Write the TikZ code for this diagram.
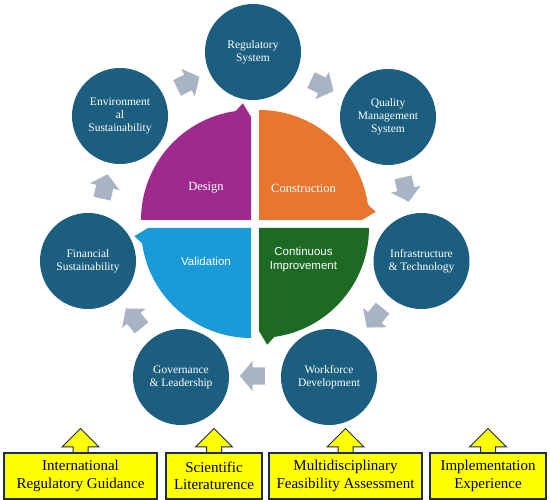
\documentclass[tikz,border=0pt]{standalone}
\usepackage{fontspec}
\setmainfont{Liberation Serif}
\setsansfont{Liberation Sans}
\usetikzlibrary{shapes.arrows}
\definecolor{circblue}{HTML}{1B5E80}
\definecolor{qpurple}{HTML}{9E2A8E}
\definecolor{qorange}{HTML}{E9762E}
\definecolor{qgreen}{HTML}{1D6A25}
\definecolor{qblue}{HTML}{189BD7}
\definecolor{garrow}{HTML}{A8B3C3}
\definecolor{yfill}{HTML}{FFFF00}
\definecolor{navy}{HTML}{1F2B4A}
\tikzset{
  circ/.style={circle, fill=circblue, text=white, minimum size=96pt, inner sep=0pt, align=center, font=\fontsize{11.5}{13}\selectfont},
  garr/.style={single arrow, fill=garrow, inner xsep=0pt, inner ysep=8.5pt, minimum height=25pt, minimum width=0pt, single arrow head extend=6.5pt, single arrow tip angle=100},
  yarr/.style={single arrow, fill=yfill, draw=navy, line width=1pt, inner xsep=0pt, inner ysep=7pt, minimum height=25pt, minimum width=0pt, single arrow head extend=11pt, rotate=90},
  ybx/.style={rectangle, fill=yfill, draw=navy, line width=1.2pt, minimum height=46pt, align=center, inner sep=0pt, font=\fontsize{15}{17.5}\selectfont},
  qlab/.style={text=white, align=center, font=\fontsize{12.5}{14}\selectfont},
  qlabs/.style={text=white, align=center, font=\sffamily\fontsize{11.5}{14}\selectfont}
}
\begin{document}
\begin{tikzpicture}[x=1pt,y=1pt]
\useasboundingbox (0,0) rectangle (550,500);
% quadrants
\begin{scope}[shift={(251,280)}]
\fill[qpurple] (0,0) -- (180:110pt) arc[start angle=180,end angle=98,radius=110pt] -- (94:117pt) -- (90:103pt) -- cycle;
\end{scope}
\begin{scope}[shift={(259,280)}]
\fill[qorange] (0,0) -- (90:110pt) arc[start angle=90,end angle=8,radius=110pt] -- (4:117pt) -- (0:103pt) -- cycle;
\end{scope}
\begin{scope}[shift={(259,272)}]
\fill[qgreen] (0,0) -- (0:110pt) arc[start angle=0,end angle=-82,radius=110pt] -- (-86:117pt) -- (-90:103pt) -- cycle;
\end{scope}
\begin{scope}[shift={(251,272)}]
\fill[qblue] (0,0) -- (270:110pt) arc[start angle=270,end angle=188,radius=110pt] -- (184:117pt) -- (180:103pt) -- cycle;
\end{scope}
\node[qlab] (design) at (206,312) {Design};
\node[qlab] (constr) at (303.5,312) {Construction};
\node[qlabs] (valid) at (206,239) {Validation};
\node[qlabs] (ci) at (303.5,240) {Continuous\\Improvement};
% circles
\node[circ] (reg) at (253,448) {Regulatory\\System};
\node[circ] (env) at (120,384) {Environment\\al\\Sustainability};
\node[circ] (qms) at (388,383) {Quality\\Management\\System};
\node[circ] (inf) at (421.5,239) {Infrastructure\\\& Technology};
\node[circ] (fin) at (88,239) {Financial\\Sustainability};
\node[circ] (wfd) at (329,123) {Workforce\\Development};
\node[circ] (gov) at (181,123) {Governance\\\& Leadership};
% gray arrows
\node[garr, rotate=26] (ga1) at (185,416) {};
\node[garr, rotate=-26] (ga2) at (319,416) {};
\node[garr, rotate=-77] (ga3) at (405,314) {};
\node[garr, rotate=-129] (ga4) at (377,185) {};
\node[garr, rotate=180] (ga5) at (256,124) {};
\node[garr, rotate=129] (ga6) at (136,179) {};
\node[garr, rotate=77] (ga7) at (104,310) {};
% yellow arrows
\node[yarr, anchor=tail] (ya1) at (80.5,46) {};
\node[yarr, anchor=tail] (ya2) at (214,46) {};
\node[yarr, anchor=tail] (ya3) at (345.5,46) {};
\node[yarr, anchor=tail] (ya4) at (488,46) {};
% boxes
\node[ybx, minimum width=153pt] (b1) at (80.5,24) {International\\Regulatory Guidance};
\node[ybx, minimum width=96pt] (b2) at (214,24) {Scientific\\Literaturence};
\node[ybx, minimum width=153pt] (b3) at (345.5,24) {Multidisciplinary\\Feasibility Assessment};
\node[ybx, minimum width=116pt] (b4) at (488,24) {Implementation\\Experience};
\end{tikzpicture}
\end{document}
